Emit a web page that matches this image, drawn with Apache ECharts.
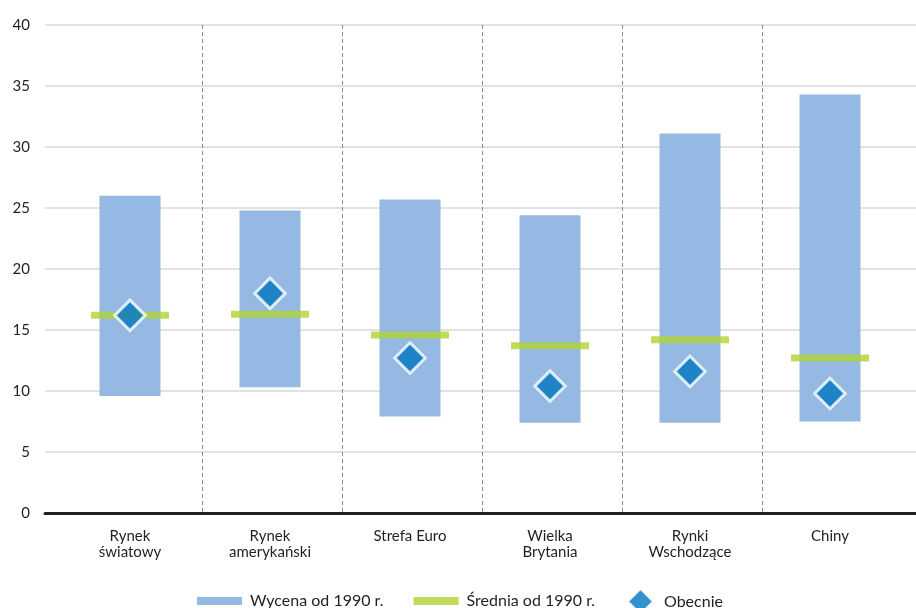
<!DOCTYPE html>
<html>
<head>
<meta charset="utf-8">
<script src="https://cdn.jsdelivr.net/npm/echarts@6/dist/echarts.min.js"></script>
<style>
html,body{margin:0;padding:0;background:#fff;}
#chart{width:916px;height:608px;}
</style>
</head>
<body>
<div id="chart"></div>
<script>
const categories = ['Rynek\nświatowy', 'Rynek\namerykański', 'Strefa Euro', 'Wielka\nBrytania', 'Rynki\nWschodzące', 'Chiny'];
const rangeLow = [9.6, 10.3, 7.9, 7.4, 7.4, 7.5];
const rangeHigh = [26.0, 24.8, 25.7, 24.4, 31.1, 34.3];
const average = [16.2, 16.3, 14.6, 13.7, 14.2, 12.7];
const current = [16.2, 18.0, 12.7, 10.4, 11.6, 9.8];
const seriesNames = ['Wycena od 1990 r.', 'Średnia od 1990 r.', 'Obecnie'];

const FONT = 'Lato, "Open Sans", sans-serif';
const TXT = '#231f20';

const chart = echarts.init(document.getElementById('chart'), null, {renderer: 'canvas'});
const option = {
  backgroundColor: '#fff',
  animation: false,
  textStyle: {fontFamily: FONT, color: TXT},
  grid: [
    {left: 45, right: 0, top: 25, bottom: 95, containLabel: false},
    {left: 60, right: 16, top: 25, bottom: 95, containLabel: false},
    {left: 62, right: 14, top: 25, bottom: 95, containLabel: false}
  ],
  xAxis: [
    {
      gridIndex: 0, type: 'value', min: 0, max: 1,
      axisLine: {show: true, lineStyle: {color: TXT, width: 3}},
      axisTick: {show: false}, axisLabel: {show: false}, splitLine: {show: false}
    },
    {
      gridIndex: 1, type: 'category', data: categories, boundaryGap: true,
      axisLine: {show: false}, axisTick: {show: false},
      axisLabel: {show: true, margin: 15, fontSize: 15, lineHeight: 16, color: TXT, fontFamily: FONT},
      splitLine: {show: false}
    },
    {
      gridIndex: 2, type: 'category', data: categories, boundaryGap: true,
      axisLine: {show: false}, axisTick: {show: false}, axisLabel: {show: false},
      splitLine: {show: true, showMinLine: false, showMaxLine: false,
        lineStyle: {color: '#8c8c8c', type: [4, 3], width: 1}}
    }
  ],
  yAxis: [
    {
      gridIndex: 0, type: 'value', min: 0, max: 40, interval: 5,
      axisLine: {show: false}, axisTick: {show: false},
      axisLabel: {margin: 15, fontSize: 15, color: TXT, fontFamily: FONT},
      splitLine: {show: true, lineStyle: {color: '#d9d9d9', width: 1.5}}
    },
    {
      gridIndex: 1, type: 'value', min: 0, max: 40, interval: 5,
      show: false, splitLine: {show: false}
    },
    {
      gridIndex: 2, type: 'value', min: 0, max: 40, interval: 5,
      show: false, splitLine: {show: false}
    }
  ],
  legend: [
    {
      data: [seriesNames[0], seriesNames[1]],
      left: 197, top: 593, padding: 0, itemWidth: 45, itemHeight: 8, itemGap: 30,
      icon: 'rect',
      textStyle: {fontSize: 16, color: TXT, fontFamily: FONT, padding: [0, 0, 0, 3]}
    },
    {
      data: [seriesNames[2]],
      left: 627, top: 588, padding: 0, itemWidth: 25, itemHeight: 25,
      icon: 'diamond',
      textStyle: {fontSize: 16, color: TXT, fontFamily: FONT, padding: [2, 0, 0, 6]}
    }
  ],
  series: [
    {
      name: 'base', type: 'bar', stack: 'range', xAxisIndex: 1, yAxisIndex: 1,
      barWidth: 61, data: rangeLow,
      itemStyle: {color: 'rgba(0,0,0,0)'}, silent: true
    },
    {
      name: seriesNames[0], type: 'bar', stack: 'range', xAxisIndex: 1, yAxisIndex: 1,
      barWidth: 61, data: rangeHigh.map((h, i) => +(h - rangeLow[i]).toFixed(2)),
      itemStyle: {color: '#95b9e2'}
    },
    {
      name: seriesNames[1], type: 'scatter', xAxisIndex: 1, yAxisIndex: 1,
      symbol: 'rect', symbolSize: [78, 7], data: average,
      itemStyle: {color: '#b2d235'}, z: 3
    },
    {
      name: seriesNames[2], type: 'scatter', xAxisIndex: 1, yAxisIndex: 1,
      symbol: 'diamond', symbolSize: 30.5, data: current,
      itemStyle: {color: '#0077c0', borderColor: '#ffffff', borderWidth: 3}, z: 4
    }
  ]
};
chart.setOption(option);
</script>
</body>
</html>
